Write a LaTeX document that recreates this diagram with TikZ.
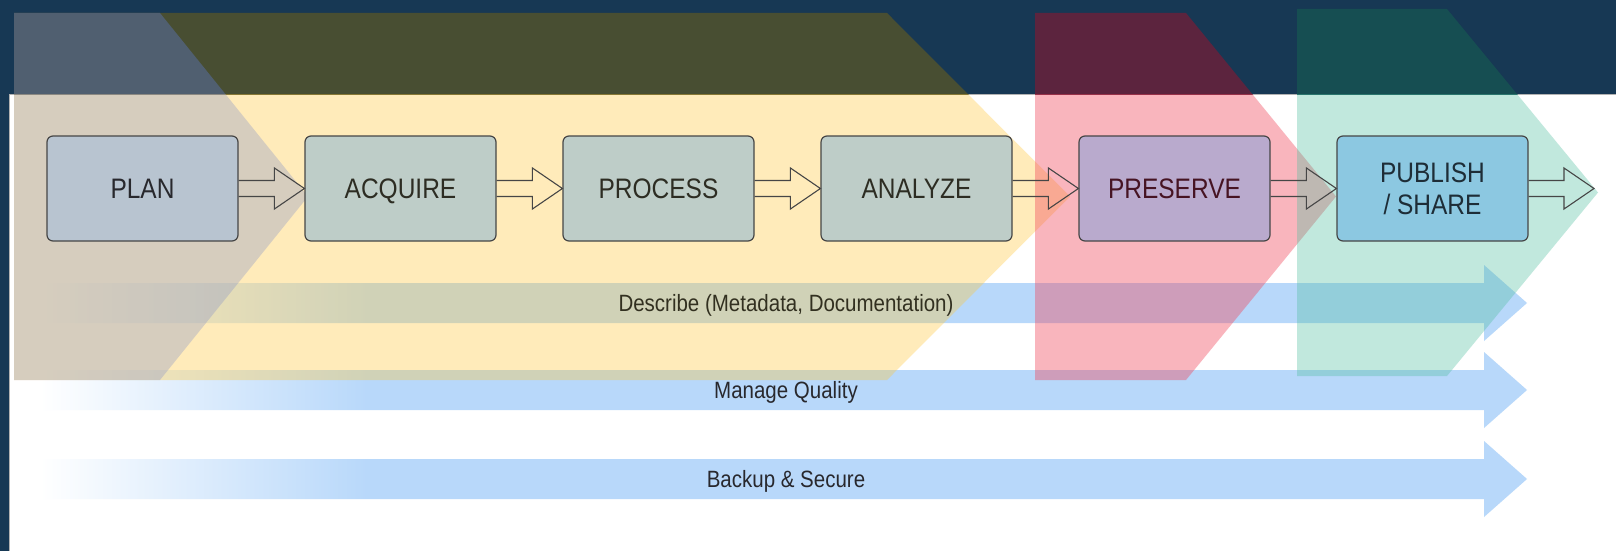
\documentclass[tikz,border=0pt]{standalone}
\usepackage{graphicx}
\usepackage{fontspec}
\setmainfont{Liberation Sans}
\usetikzlibrary{calc}
\definecolor{navy}{RGB}{23,56,84}
\definecolor{bandblue}{RGB}{184,216,250}
\definecolor{boxline}{RGB}{70,70,70}
\definecolor{ovgray}{RGB}{140,150,200}
\definecolor{ovyellow}{RGB}{255,200,60}
\definecolor{ovred}{RGB}{240,70,90}
\definecolor{ovteal}{RGB}{80,190,160}
\definecolor{dkgray}{RGB}{80,95,112}
\definecolor{dkyellow}{RGB}{72,78,50}
\definecolor{dkred}{RGB}{92,36,62}
\definecolor{dkteal}{RGB}{22,78,82}
\definecolor{fplan}{RGB}{184,196,208}
\definecolor{fmid}{RGB}{190,205,200}
\definecolor{fpres}{RGB}{185,170,205}
\definecolor{fpub}{RGB}{140,200,225}
\definecolor{tmid}{RGB}{45,45,35}
\definecolor{tpres}{RGB}{70,20,35}
\definecolor{tpub}{RGB}{30,45,55}
\definecolor{tband}{RGB}{40,40,45}
\definecolor{tdesc}{RGB}{50,48,32}
\pgfdeclarehorizontalshading{bandshade}{100bp}{color(0bp)=(white); color(25bp)=(white); color(36bp)=(bandblue); color(100bp)=(bandblue)}
\newcommand\talltext[1]{\scalebox{1}[1.15]{\raisebox{0pt}[\height][0pt]{#1}}}
\begin{document}
\begin{tikzpicture}[x=1pt,y=-1pt,
  stagebox/.style={draw=boxline, line width=1.2pt, rounded corners=6pt,
    minimum width=191pt, minimum height=105pt, inner sep=0pt, align=center,
    font=\fontsize{24.5pt}{32pt}\selectfont},
  harrow/.style={draw=boxline, line width=1.1pt, line join=miter},
  bandlabel/.style={inner sep=0pt, text=tband, font=\fontsize{20.5pt}{24pt}\selectfont},
  pgray/.style={insert path={(14,13) -- (160,13) -- (308,196.5) -- (160,380) -- (14,380) -- cycle}},
  pyellow/.style={insert path={(14,13) -- (887,13) -- (1070,196.5) -- (887,380) -- (14,380) -- cycle}},
  pred/.style={insert path={(1035,13) -- (1186,13) -- (1336,196.5) -- (1186,380) -- (1035,380) -- cycle}},
  pteal/.style={insert path={(1297,9) -- (1447,9) -- (1598,192.5) -- (1447,376) -- (1297,376) -- cycle}}
]
\useasboundingbox (0,0) rectangle (1616,551);
\fill[navy] (0,0) rectangle (1616,551);
\fill[white] (9,94) rectangle (1616,551);
\draw[gray!60, line width=1pt] (9,551) -- (9,94) -- (1616,94);

% background bands
\foreach \c in {303,390,479}{
  \shade[shading=bandshade] (40,\c-20) -- (1484,\c-20) -- (1484,\c-38) -- (1527,\c) -- (1484,\c+38) -- (1484,\c+20) -- (40,\c+20) -- cycle;
}

% overlays over the navy strip
\begin{scope}
  \clip (0,0) rectangle (1616,94);
  \fill[dkyellow, pyellow];
  \fill[dkgray, pgray];
  \fill[dkred, pred];
  \fill[dkteal, pteal];
\end{scope}
% overlays over the white panel
\begin{scope}
  \clip (0,94) rectangle (1616,551);
  \fill[ovyellow, fill opacity=.35, pyellow];
  \fill[ovgray, fill opacity=.35, pgray];
  \fill[ovred, fill opacity=.4, pred];
  \fill[ovteal, fill opacity=.35, pteal];
\end{scope}

\node[bandlabel, text=tdesc] (describe) at (786,303) {\talltext{Describe (Metadata, Documentation)}};
\node[bandlabel] (quality) at (786,390) {\talltext{Manage Quality}};
\node[bandlabel] (backup) at (786,479) {\talltext{Backup \& Secure}};

% stages
\node[stagebox, fill=fplan, text=tband] (plan) at (142.5,188.5) {\talltext{PLAN}};
\node[stagebox, fill=fmid, text=tmid] (acquire) at (400.5,188.5) {\talltext{ACQUIRE}};
\node[stagebox, fill=fmid, text=tmid] (process) at (658.5,188.5) {\talltext{PROCESS}};
\node[stagebox, fill=fmid, text=tmid] (analyze) at (916.5,188.5) {\talltext{ANALYZE}};
\node[stagebox, fill=fpres, text=tpres] (preserve) at (1174.5,188.5) {\talltext{PRESERVE}};
\node[stagebox, fill=fpub, text=tpub] (publish) at (1432.5,188.5) {\talltext{PUBLISH}\\\talltext{/ SHARE}};
\coordinate (out) at (1594,188.5);

\foreach \a/\b in {plan/acquire, acquire/process, process/analyze, analyze/preserve, preserve/publish, publish/out}{
  \draw[harrow] let \p1=(\a.east), \p2=(\b.west) in
    (\x1,\y1+8) -- (\x2-30,\y1+8) -- (\x2-30,\y1+20.5) -- (\x2,\y1) -- (\x2-30,\y1-20.5) -- (\x2-30,\y1-8) -- (\x1,\y1-8);
}
\end{tikzpicture}
\end{document}
